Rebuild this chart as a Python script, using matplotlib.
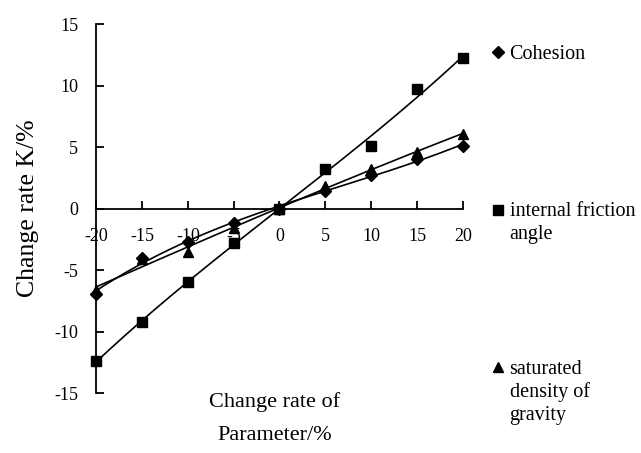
import numpy as np
from matplotlib import pyplot as plt
from matplotlib.lines import Line2D

plt.rcParams.update({"font.family": "Liberation Serif", "font.size": 13,
                     "axes.unicode_minus": False})

# change rate of parameter (%)
x = np.array([-20, -15, -10, -5, 0, 5, 10, 15, 20])
# change rate K (%)
cohesion = np.array([-6.9, -4.0, -2.7, -1.2, 0.0, 1.4, 2.75, 4.0, 5.1])
friction = np.array([-12.4, -9.2, -6.0, -2.8, 0.0, 3.2, 5.1, 9.7, 12.2])
gravity = np.array([-6.6, -4.1, -3.5, -1.6, 0.0, 1.8, 3.2, 4.6, 6.1])

names = ['Cohesion', 'internal friction\nangle', 'saturated\ndensity of\ngravity']
markers = ['D', 's', '^']
msizes = [6, 7, 7.5]

fig = plt.figure(figsize=(6.41, 4.53), dpi=100)
ax = fig.add_axes([0.150, 0.132, 0.572, 0.815])

xs = np.linspace(-20, 20, 200)
series = [cohesion, friction, gravity]
# trend lines (cubic fit) like the spreadsheet chart
for y in series:
    c = np.polyfit(x, y, 3)
    ax.plot(xs, np.polyval(c, xs), color='black', lw=1.2, zorder=2)
for y, m, ms in zip([gravity, friction, cohesion], ['^', 's', 'D'], [7.5, 7, 6]):
    ax.plot(x, y, linestyle='none', marker=m, markersize=ms, color='black', zorder=3, clip_on=False)

ax.set_xlim(-20, 20)
ax.set_ylim(-15, 15)
ax.set_xticks(np.arange(-20, 21, 5))
ax.set_yticks(np.arange(-15, 16, 5))
ax.spines['top'].set_visible(False)
ax.spines['right'].set_visible(False)
ax.spines['bottom'].set_position(('data', 0))
ax.spines['left'].set_linewidth(1.3)
ax.spines['bottom'].set_linewidth(1.3)
ax.tick_params(axis='both', direction='in', length=6, width=1.3, labelsize=13)
ax.tick_params(axis='x', pad=14)
ax.tick_params(axis='y', pad=13)

ax.set_ylabel('Change rate K/%', fontsize=18.5, labelpad=11)
fig.text(0.428, 0.076, 'Change rate of\nParameter/%', fontsize=16, ha='center', va='center',
         linespacing=1.95)

# legend placed to the right, entries spread down the height
leg_y = [0.885, 0.537, 0.19]
for name, m, ms, ly in zip(names, markers, msizes, leg_y):
    fig.add_artist(Line2D([0.777], [ly], marker=m, markersize=ms * 0.95, color='black',
                          linestyle='none', transform=fig.transFigure))
    fig.text(0.795, ly + 0.016, name, fontsize=14.5, ha='left', va='top', linespacing=1.25,
             transform=fig.transFigure)

fig.savefig('out.png', dpi=100)
